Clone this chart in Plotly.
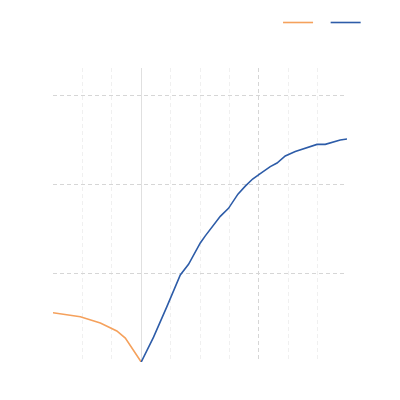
import plotly.graph_objects as go

# left branch (orange) and right branch (blue)
left_x = [-3.0, -2.07, -1.39, -0.83, -0.54, -0.27, 0.0]
left_y = [0.555, 0.51, 0.44, 0.35, 0.27, 0.135, 0.0]

right_x = [0.0, 0.42, 0.87, 1.33, 1.61, 2.01, 2.18, 2.69, 2.97, 3.29, 3.54,
           3.79, 4.05, 4.39, 4.62, 4.90, 5.24, 5.58, 5.98, 6.26, 6.77, 7.0]
right_y = [0.0, 0.28, 0.62, 0.98, 1.10, 1.34, 1.42, 1.64, 1.73, 1.89, 1.98,
           2.06, 2.12, 2.20, 2.24, 2.32, 2.37, 2.41, 2.45, 2.45, 2.50, 2.51]

fig = go.Figure()
fig.add_trace(go.Scatter(x=left_x, y=left_y, mode="lines", name=" ",
                         line=dict(color="#F5A15C", width=1.6)))
fig.add_trace(go.Scatter(x=right_x, y=right_y, mode="lines", name=" ",
                         line=dict(color="#2D5CA8", width=1.6)))

fig.update_layout(
    width=400, height=400,
    margin=dict(l=45, r=61, t=60, b=46),
    plot_bgcolor="white", paper_bgcolor="white",
    showlegend=True,
    legend=dict(orientation="h", x=1.092, xanchor="right", y=1.0,
                yanchor="top", yref="container", font=dict(size=10)),
    xaxis=dict(
        range=[-3, 7], tick0=0, dtick=4, showticklabels=False, ticks="",
        showgrid=True, gridcolor="#d6d6d6", griddash="4px,3px", gridwidth=1,
        zeroline=True, zerolinecolor="#e0e0e0", zerolinewidth=1,
        minor=dict(dtick=1, showgrid=True, gridcolor="#f0f0f0",
                   griddash="4px,3px"),
    ),
    yaxis=dict(
        range=[0, 3.31], tickmode="array", tickvals=[1, 2, 3],
        showticklabels=False, ticks="",
        showgrid=True, gridcolor="#d6d6d6", griddash="4px,3px", gridwidth=1,
        zeroline=False,
    ),
)

fig.write_html("out.html")
